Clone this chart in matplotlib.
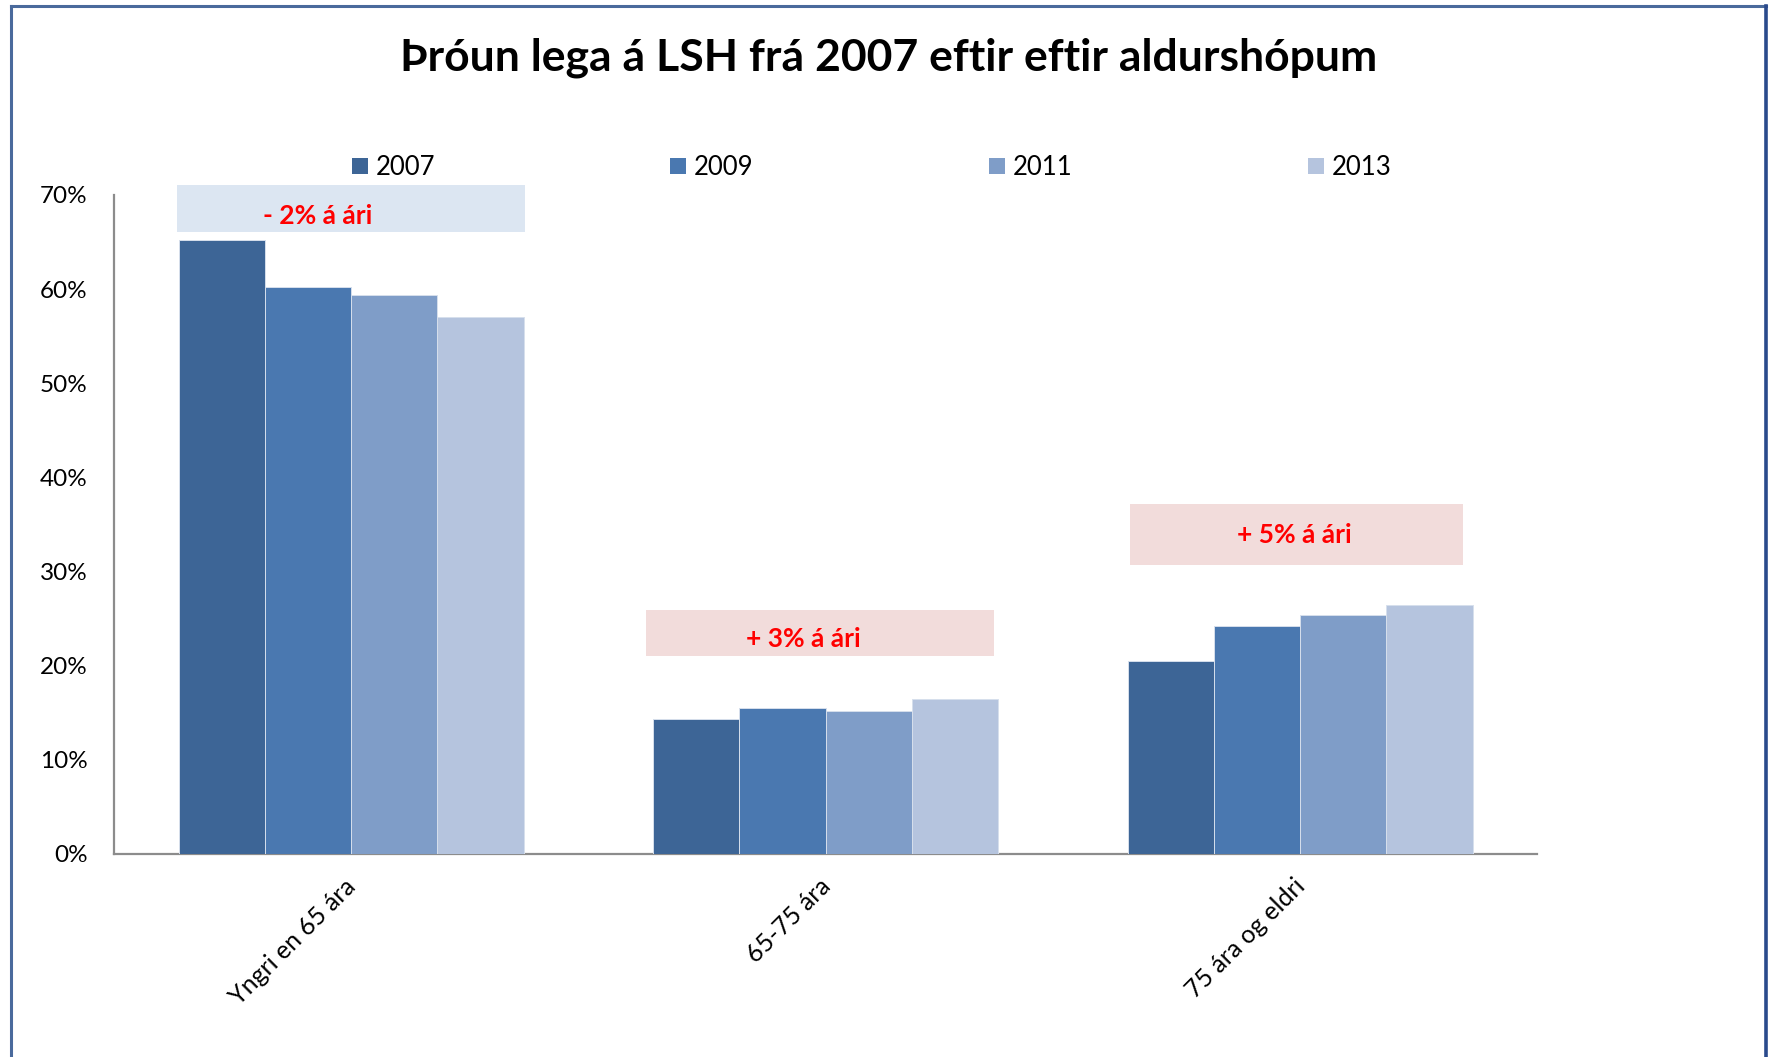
"""
Þróun lega á LSH frá 2007 eftir aldurshópum - grouped bar chart.

Run: python3 plot.py
"""

import matplotlib
matplotlib.use("Agg")
import matplotlib.pyplot as plt
import matplotlib.transforms as mtransforms
from matplotlib.patches import Patch, Rectangle
from matplotlib.lines import Line2D
from matplotlib.ticker import FuncFormatter
import numpy as np

FIG_PATH = "out.png"

TITLE = "Þróun lega á LSH frá 2007 eftir eftir aldurshópum"
CATEGORIES = ["Yngri en 65 ára", "65-75 ára", "75 ára og eldri"]
YEARS = ["2007", "2009", "2011", "2013"]

# share of stays (%) per age group, one list per year
VALUES_2007 = [65.2, 14.3, 20.5]
VALUES_2009 = [60.2, 15.5, 24.2]
VALUES_2011 = [59.4, 15.2, 25.4]
VALUES_2013 = [57.0, 16.5, 26.4]

ANNOTATIONS = ["- 2% á ári", "+ 3% á ári", "+ 5% á ári"]

COLORS = ["#3d6596", "#4a78b0", "#7f9dc8", "#b5c4de"]
BOX_COLORS = ["#dce6f2", "#f2dcdb", "#f2dcdb"]
FONT = "Lato"


def main() -> None:
    plt.rcParams["font.family"] = [FONT, "DejaVu Sans"]

    fig = plt.figure(figsize=(17.7, 10.57), dpi=100)
    ax = fig.add_axes([0.0644, 0.1921, 0.8042, 0.6235])

    series = [VALUES_2007, VALUES_2009, VALUES_2011, VALUES_2013]
    x = np.arange(len(CATEGORIES))
    group_w = 0.727
    bar_w = group_w / len(series)
    for k, (vals, year) in enumerate(zip(series, YEARS)):
        offs = (k - (len(series) - 1) / 2) * bar_w
        ax.bar(x + offs, vals, width=bar_w, color=COLORS[k], label=year,
               edgecolor="#d6dfec", linewidth=0.7, zorder=3)

    ax.set_xlim(-0.5, len(CATEGORIES) - 0.5)
    ax.set_ylim(0, 70)
    ax.set_yticks(np.arange(0, 71, 10))
    ax.yaxis.set_major_formatter(FuncFormatter(lambda v, _: f"{v:.0f}%"))
    ax.tick_params(axis="y", length=0, pad=19, labelsize=17.5)
    ax.set_xticks(x)
    ax.set_xticklabels(CATEGORIES, rotation=45, ha="right", va="top",
                       rotation_mode="anchor", fontsize=18)
    ax.tick_params(axis="x", length=0, pad=15)
    # nudge rotated labels slightly left so they end at the group centre
    shift = mtransforms.ScaledTranslation(-0.07, 0, fig.dpi_scale_trans)
    for lab in ax.get_xticklabels():
        lab.set_transform(lab.get_transform() + shift)

    for side in ["top", "right"]:
        ax.spines[side].set_visible(False)
    for side in ["left", "bottom"]:
        ax.spines[side].set_color("#8c8c8c")
        ax.spines[side].set_linewidth(1.6)

    # annotation boxes over each age group (x0, x1, y0, y1 in data units)
    boxes = [(-0.367, 0.366, 66.1, 71.0),
             (0.621, 1.355, 21.0, 25.9),
             (1.642, 2.344, 30.7, 37.2)]
    text_pos = [(-0.07, 67.8), (0.952, 22.8), (1.988, 33.9)]
    for i, label in enumerate(ANNOTATIONS):
        x0, x1, y0, y1 = boxes[i]
        ax.add_patch(Rectangle((x0, y0), x1 - x0, y1 - y0,
                               facecolor=BOX_COLORS[i], edgecolor="none",
                               clip_on=False, zorder=2))
        tx, ty = text_pos[i]
        ax.text(tx, ty, label, color="#ff0000", fontsize=19, fontweight="bold",
                ha="center", va="center", zorder=4)

    fig.text(0.502, 0.945, TITLE, fontsize=32, fontweight="bold",
             ha="center", va="center")

    handles = [Patch(facecolor=c, edgecolor="none") for c in COLORS]
    fig.legend(handles, YEARS, loc="lower left", ncol=4, mode="expand",
               bbox_to_anchor=(352 / 1770, 1 - 180 / 1057, (1391 - 352) / 1770, 0.02),
               frameon=False, fontsize=18.5, handlelength=0.62, handleheight=0.62,
               handletextpad=0.3, borderpad=0, borderaxespad=0)

    # frame around the chart area (bottom edge is cut off in the original)
    frame_c = "#4a6a9c"
    fig.add_artist(Line2D([11 / 1770, 11 / 1770], [0, 1 - 6 / 1057],
                          color=frame_c, linewidth=2.2))
    fig.add_artist(Line2D([11 / 1770, 1766 / 1770], [1 - 6 / 1057, 1 - 6 / 1057],
                          color=frame_c, linewidth=2.2))
    fig.add_artist(Line2D([1766 / 1770, 1766 / 1770], [0, 1 - 6 / 1057],
                          color="#2a4a8c", linewidth=2.6))

    fig.savefig(FIG_PATH, dpi=100)
    plt.close(fig)


if __name__ == "__main__":
    main()
